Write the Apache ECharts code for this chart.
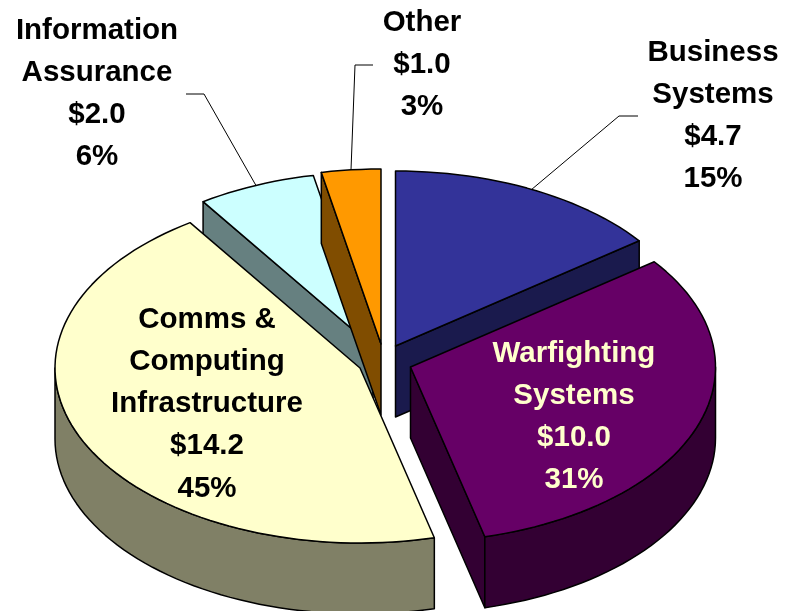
<!DOCTYPE html>
<html><head><meta charset="utf-8">
<style>html,body{margin:0;padding:0;background:#fff}#c{width:786px;height:611px}</style>
<script src="https://cdn.jsdelivr.net/npm/echarts@6/dist/echarts.min.js"></script>
</head><body><div id="c"></div>
<script>
// Data, in clockwise order from 12 o'clock
var categories = ['Business\nSystems', 'Warfighting\nSystems', 'Comms &\nComputing\nInfrastructure', 'Information\nAssurance', 'Other'];
var amounts = [4.7, 10.0, 14.2, 2.0, 1.0];
var amountLabels = ['$4.7', '$10.0', '$14.2', '$2.0', '$1.0'];
var percentLabels = ['15%', '31%', '45%', '6%', '3%'];

// Layout and style only
var RX = 305, RY = 175, DEPTH = 71;
var apexes = [[395.5, 346], [410.5, 367], [360, 368], [373, 347], [381, 344]];
var topColors = ['#333399', '#660066', '#FFFFCC', '#CCFFFF', '#FF9900'];
var sideColors = ['#1A1A4D', '#330033', '#808066', '#668080', '#804D00'];
var textColors = ['#000', '#FFFFCC', '#000', '#000', '#000'];
var labelCenters = [[713, 53], [574, 354], [207, 320], [97, 31], [422, 23]];
var leaderBends = [[[619, 116], [638, 116]], null, null, [[204, 94], [186, 94]], [[355, 65], [373, 65]]];
var drawOrder = [0, 3, 4, 1, 2];
var LINE_H = 42.1;

var total = amounts.reduce(function (a, b) { return a + b; }, 0);
var angles = [], acc = 0;
amounts.forEach(function (v) { var s = acc / total * 360; acc += v; angles.push([s, acc / total * 360]); });

function rim(i, deg, dy) {
  var t = deg * Math.PI / 180;
  return [apexes[i][0] + RX * Math.sin(t), apexes[i][1] - RY * Math.cos(t) + (dy || 0)];
}
function arc(i, a, b, dy) {
  var n = Math.max(2, Math.ceil((b - a) / 2)), pts = [];
  for (var k = 0; k <= n; k++) pts.push(rim(i, a + (b - a) * k / n, dy));
  return pts;
}
function poly(points, fill, z2) {
  return { type: 'polygon', z2: z2, shape: { points: points },
    style: { fill: fill, stroke: '#000', lineWidth: 1.5, lineJoin: 'round' } };
}

function renderItem(params, api) {
  var i = api.value(0), order = drawOrder.indexOf(i), z = order * 10;
  var a = angles[i][0], b = angles[i][1], ap = apexes[i];
  var apLow = [ap[0], ap[1] + DEPTH], kids = [];
  // cut faces turned toward the viewer
  if (a > 180 && a < 360) { var p = rim(i, a); kids.push(poly([ap, p, [p[0], p[1] + DEPTH], apLow], sideColors[i], z)); }
  if (b > 0 && b < 180) { var q = rim(i, b); kids.push(poly([ap, q, [q[0], q[1] + DEPTH], apLow], sideColors[i], z)); }
  // outer wall, front half only
  var fa = Math.max(a, 90), fb = Math.min(b, 270);
  if (fb > fa) kids.push(poly(arc(i, fa, fb, 0).concat(arc(i, fa, fb, DEPTH).reverse()), sideColors[i], z + 1));
  // top
  kids.push(poly([ap].concat(arc(i, a, b, 0)), topColors[i], z + 2));
  // leader
  if (leaderBends[i]) {
    kids.push({ type: 'polyline', z2: 90, shape: { points: [rim(i, (a + b) / 2)].concat(leaderBends[i]) },
      style: { fill: null, stroke: '#000', lineWidth: 1 } });
  }
  // label
  var lines = categories[i].split('\n').concat([amountLabels[i], percentLabels[i]]);
  lines.forEach(function (t, k) {
    kids.push({ type: 'text', z2: 100, style: {
      x: labelCenters[i][0], y: labelCenters[i][1] + k * LINE_H, text: t, align: 'center', verticalAlign: 'middle',
      fill: textColors[i], font: 'bold 29.5px "Liberation Sans", Arial, sans-serif' } });
  });
  return { type: 'group', children: kids };
}

var chart = echarts.init(document.getElementById('c'), null, { renderer: 'canvas' });
chart.setOption({
  animation: false,
  backgroundColor: '#fff',
  series: [{ type: 'custom', coordinateSystem: 'none', silent: true, clip: false,
    renderItem: renderItem,
    data: amounts.map(function (v, i) { return [i, v]; }) }]
});
</script></body></html>
